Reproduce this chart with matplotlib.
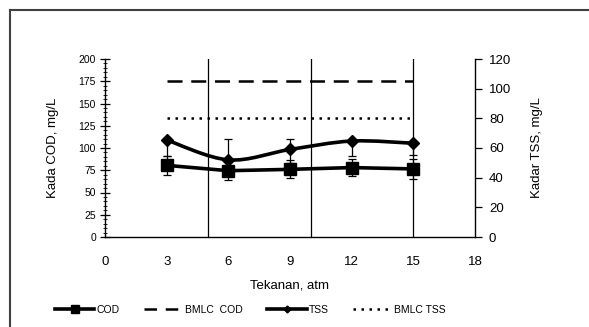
import matplotlib
matplotlib.use('Agg')
import matplotlib.pyplot as plt
from matplotlib.path import Path
from matplotlib.patches import PathPatch
from matplotlib.lines import Line2D
import numpy as np

plt.rcParams['font.family'] = ['Liberation Sans', 'DejaVu Sans']

# data
tekanan = [3, 6, 9, 12, 15]
cod = [80.5, 74.5, 76, 78, 76.5]
cod_err = [11, 11, 10, 10, 11]
tss = [65.4, 52, 59, 64.7, 63.2]
tss_err_minus = [11, 0, 9, 10, 8]
tss_err_plus = [0, 14, 7, 0, 0]
bmlc_cod = [175, 175, 175, 175, 175]
bmlc_tss = [80, 80, 80, 80, 80]
xticks = [0, 3, 6, 9, 12, 15, 18]
grid_x = [5, 10, 15]

fig = plt.figure(figsize=(5.89, 3.27), dpi=100)
# outer chart border, only left and top edges are inside the picture
fig.lines.append(Line2D([10/589, 10/589], [0, 1 - 10/327], transform=fig.transFigure,
                        color='#404040', lw=1.5))
fig.lines.append(Line2D([10/589, 1], [1 - 10/327, 1 - 10/327], transform=fig.transFigure,
                        color='#404040', lw=1.5))

ax = fig.add_axes([105/589, 1 - 237/327, 370/589, 178/327])
ax2 = ax.twinx()

for gx in grid_x:
    ax.axvline(gx, color='black', lw=0.9, zorder=1)

# COD
ax.errorbar(tekanan, cod, yerr=cod_err, color='black', lw=2.6, marker='s', ms=8.5,
            ecolor='black', elinewidth=0.9, capsize=2.7, capthick=0.9, zorder=4)
ax.plot([tekanan[0], tekanan[-1]], [bmlc_cod[0], bmlc_cod[-1]], color='black', lw=1.8,
        dashes=(6, 3.5), zorder=3)

# TSS (smoothed line, bezier through the points)
ax2.errorbar(tekanan, tss, yerr=[tss_err_minus, tss_err_plus], color='black', lw=0,
             marker='D', ms=6, ecolor='black', elinewidth=0.9, capsize=2.7, capthick=0.9,
             zorder=4)
pts = np.column_stack([tekanan, tss]).astype(float)
ext = np.vstack([pts[0], pts, pts[-1]])
verts = [tuple(pts[0])]
codes = [Path.MOVETO]
for i in range(len(pts) - 1):
    p0, p1, p2, p3 = ext[i], ext[i + 1], ext[i + 2], ext[i + 3]
    c1 = p1 + (p2 - p0) / 6
    c2 = p2 - (p3 - p1) / 6
    verts += [tuple(c1), tuple(c2), tuple(p2)]
    codes += [Path.CURVE4] * 3
ax2.add_patch(PathPatch(Path(verts, codes), fill=False, edgecolor='black', lw=2.6, zorder=4))
ax2.plot([tekanan[0], tekanan[-1]], [bmlc_tss[0], bmlc_tss[-1]], color='black', lw=1.8,
         linestyle=(0, (1, 2.2)), zorder=3)

ax.set_xlim(0, 18)
ax.set_ylim(0, 200)
ax2.set_ylim(0, 120)
ax.set_xticks(xticks)
ax.set_yticks(range(0, 201, 25))
ax.set_yticks(range(0, 201, 5), minor=True)
ax2.set_yticks(range(0, 121, 20))

for a in (ax, ax2):
    a.spines['top'].set_visible(False)
    a.patch.set_visible(False)
ax.spines['right'].set_visible(False)
ax2.spines['left'].set_visible(False)
ax2.spines['bottom'].set_visible(False)
for s in ('left', 'bottom'):
    ax.spines[s].set_linewidth(1.0)
ax2.spines['right'].set_linewidth(1.0)

ax.tick_params(axis='x', length=0, pad=14, labelsize=9.5)
ax.tick_params(axis='y', which='major', direction='inout', length=7, width=0.9, labelsize=7.5, pad=3)
ax.tick_params(axis='y', which='minor', direction='inout', length=3, width=0.6)
ax2.tick_params(axis='y', direction='out', length=5, width=0.9, labelsize=9.5, pad=5)

ax.set_xlabel('Tekanan, atm', fontsize=9.5, labelpad=8)
ax.set_ylabel('Kada COD, mg/L', fontsize=9.5, labelpad=14)
ax2.set_ylabel('Kadar TSS, mg/L', fontsize=9.5, labelpad=14)

handles = [
    Line2D([], [], color='black', lw=2.6, marker='s', ms=6),
    Line2D([], [], color='black', lw=1.8, dashes=(5, 3.5)),
    Line2D([], [], color='black', lw=2.6, marker='D', ms=3.5),
    Line2D([], [], color='black', lw=1.8, linestyle=(0, (1, 2.2))),
]
fig.legend(handles, ['COD', 'BMLC  COD', 'TSS', 'BMLC TSS'], loc='center',
           bbox_to_anchor=(0.425, 0.052), ncol=4, frameon=False, fontsize=7.5,
           handlelength=3.8, handletextpad=0.2, columnspacing=2.3)

fig.savefig('out.png', dpi=100)
